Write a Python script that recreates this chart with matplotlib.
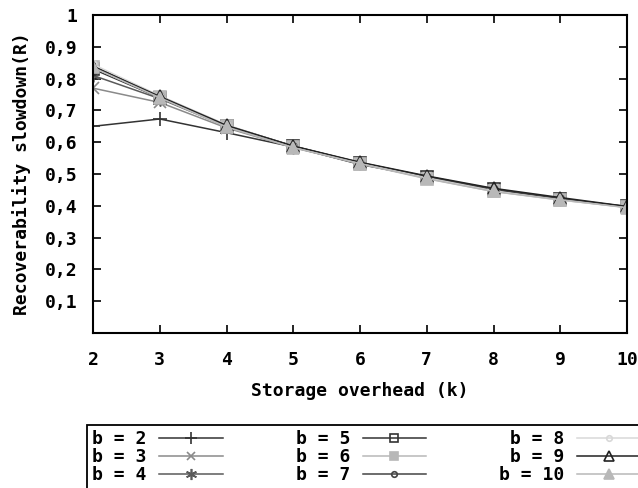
import matplotlib
matplotlib.use("Agg")
import matplotlib.pyplot as plt

k = [2, 3, 4, 5, 6, 7, 8, 9, 10]
b_labels = ["b = 2", "b = 3", "b = 4", "b = 5", "b = 6", "b = 7", " b = 8", " b = 9", "b = 10"]
r_b2 = [0.650, 0.673, 0.630, 0.585, 0.530, 0.490, 0.452, 0.422, 0.396]
r_b3 = [0.770, 0.725, 0.645, 0.583, 0.532, 0.488, 0.450, 0.420, 0.395]
r_b4 = [0.810, 0.737, 0.650, 0.585, 0.535, 0.490, 0.452, 0.422, 0.396]
r_b5 = [0.830, 0.740, 0.652, 0.588, 0.535, 0.492, 0.452, 0.422, 0.398]
r_b6 = [0.835, 0.742, 0.650, 0.585, 0.532, 0.485, 0.445, 0.418, 0.396]
r_b7 = [0.840, 0.745, 0.652, 0.587, 0.536, 0.492, 0.453, 0.423, 0.397]
r_b8 = [0.845, 0.746, 0.655, 0.586, 0.535, 0.488, 0.447, 0.418, 0.395]
r_b9 = [0.838, 0.744, 0.653, 0.588, 0.537, 0.494, 0.455, 0.426, 0.398]
r_b10 = [0.835, 0.740, 0.648, 0.583, 0.533, 0.486, 0.445, 0.419, 0.394]
series = [r_b2, r_b3, r_b4, r_b5, r_b6, r_b7, r_b8, r_b9, r_b10]
y_ticks = [0.1, 0.2, 0.3, 0.4, 0.5, 0.6, 0.7, 0.8, 0.9, 1.0]
y_tick_labels = ["0,1", "0,2", "0,3", "0,4", "0,5", "0,6", "0,7", "0,8", "0,9", "1"]

styles = [
    dict(color="#333333", marker="+", ms=10, mfc="none"),
    dict(color="#8a8a8a", marker="x", ms=8, mfc="none"),
    dict(color="#5a5a5a", marker=(6, 2, 0), ms=10, mfc="none"),
    dict(color="#333333", marker="s", ms=8, mfc="none"),
    dict(color="#b8b8b8", marker="s", ms=8, mfc="#b8b8b8"),
    dict(color="#444444", marker="o", ms=5, mfc="none"),
    dict(color="#d8d8d8", marker="o", ms=5, mfc="none"),
    dict(color="#222222", marker="^", ms=9, mfc="none"),
    dict(color="#b8b8b8", marker="^", ms=9, mfc="#b8b8b8"),
]

FS = 13
font = {"family": "DejaVu Sans Mono", "weight": "bold", "size": FS}
plt.rcParams["font.family"] = "DejaVu Sans Mono"
plt.rcParams["font.weight"] = "bold"

fig = plt.figure(figsize=(6.38, 4.88), dpi=100)
ax = fig.add_axes([93/638, 1-333/488, (627-93)/638, (333-15)/488])

handles = []
for vals, st, lab in zip(series, styles, b_labels):
    h, = ax.plot(k, vals, color=st["color"], marker=st["marker"], markersize=st["ms"],
                 markerfacecolor=st["mfc"], markeredgecolor=st["color"], markeredgewidth=1.2,
                 linewidth=1.1, label=lab)
    handles.append(h)

ax.set_xlim(2, 10)
ax.set_ylim(0, 1)
ax.set_xticks(k)
ax.set_xticklabels([str(v) for v in k], fontdict=font)
ax.set_yticks(y_ticks)
ax.set_yticklabels(y_tick_labels, fontdict=font)
ax.tick_params(direction="in", length=6, width=1.2, top=True, right=True, colors="black")
ax.tick_params(axis="x", pad=13)
ax.tick_params(axis="y", pad=11)
for s in ax.spines.values():
    s.set_linewidth(1.5)
ax.set_xlabel("Storage overhead (k)", fontdict=font, labelpad=9)
ax.set_ylabel("Recoverability slowdown(R)", fontdict=font, labelpad=10)

leg = fig.legend(handles=handles, ncol=3, loc="upper left",
                 bbox_to_anchor=(87/638, 1-425/488), markerfirst=False,
                 prop={"family": "DejaVu Sans Mono", "weight": "bold", "size": FS},
                 frameon=True, fancybox=False, edgecolor="black", framealpha=1,
                 handlelength=3.5, handletextpad=0.7, columnspacing=4.05,
                 labelspacing=0.0, borderpad=0.3, borderaxespad=0, markerscale=0.8)
leg.get_frame().set_linewidth(1.3)

fig.savefig("out.png", dpi=100)
